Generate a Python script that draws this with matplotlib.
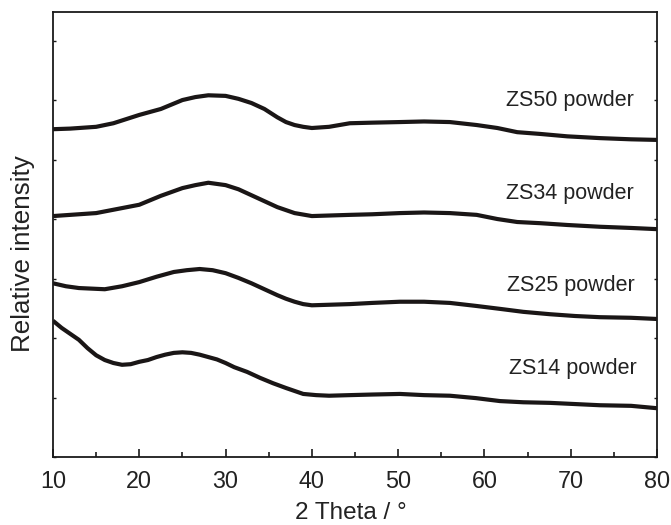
import matplotlib
matplotlib.use("Agg")
import matplotlib.pyplot as plt
from matplotlib.ticker import MultipleLocator

plt.rcParams['font.family'] = ['Liberation Sans', 'DejaVu Sans']

# ---- data ----
zs50_x = [10, 12, 15, 17, 20, 22.5, 25, 26.5, 28, 30, 31.5, 33, 34.5, 36, 37, 38, 39, 40, 42,
          44.4, 47, 50.2, 53, 56, 59.1, 61.5, 63.8, 66.5, 69.6, 73.4, 77, 80]
zs50_y = [5.51, 5.52, 5.55, 5.61, 5.75, 5.85, 6.00, 6.05, 6.08, 6.07, 6.02, 5.95, 5.85, 5.71, 5.63,
          5.58, 5.55, 5.53, 5.55, 5.61, 5.62, 5.63, 5.64, 5.63, 5.58, 5.53, 5.46, 5.43, 5.39, 5.36, 5.34, 5.33]

zs34_x = [10, 12, 15, 17.5, 20, 22.5, 25, 26.5, 28, 30, 31.5, 33, 34.5, 36, 37, 38, 40,
          44.4, 47, 50.2, 53, 56, 59.1, 61.5, 63.8, 66.5, 69.6, 73.4, 77, 80]
zs34_y = [4.05, 4.07, 4.10, 4.17, 4.24, 4.39, 4.52, 4.57, 4.61, 4.57, 4.50, 4.40, 4.30, 4.20, 4.15,
          4.10, 4.05, 4.07, 4.08, 4.10, 4.11, 4.10, 4.07, 4.00, 3.95, 3.93, 3.90, 3.87, 3.85, 3.83]

zs25_x = [10, 11.5, 13, 16, 18, 20, 22, 24, 25.5, 27, 28.5, 30, 31.5, 33, 34.5, 36, 37, 38, 39, 40,
          44.4, 47, 50.2, 53, 56, 59, 61.8, 64.5, 67.6, 70.5, 73.4, 77, 80]
zs25_y = [2.92, 2.87, 2.84, 2.82, 2.87, 2.94, 3.03, 3.11, 3.14, 3.16, 3.14, 3.09, 3.01, 2.92, 2.82,
          2.72, 2.66, 2.61, 2.57, 2.55, 2.57, 2.59, 2.61, 2.61, 2.59, 2.54, 2.49, 2.44, 2.40, 2.37,
          2.35, 2.34, 2.32]

zs14_x = [10, 11, 12, 13, 14, 15, 16, 17, 18, 19, 20, 21, 22, 23, 24, 25, 26, 27, 28, 29, 30, 31,
          32.5, 34, 35.5, 37, 38, 39, 40.5, 42, 44.4, 47, 50.2, 53, 56, 59, 61.8, 64.5, 67.6,
          70.5, 73.4, 77, 80]
zs14_y = [2.29, 2.17, 2.07, 1.97, 1.83, 1.71, 1.63, 1.58, 1.55, 1.56, 1.60, 1.63, 1.68, 1.72, 1.75,
          1.76, 1.75, 1.72, 1.68, 1.64, 1.58, 1.51, 1.43, 1.33, 1.24, 1.16, 1.11, 1.06, 1.04, 1.03,
          1.04, 1.05, 1.06, 1.04, 1.03, 0.99, 0.94, 0.92, 0.91, 0.89, 0.87, 0.86, 0.82]

labels = ["ZS50 powder", "ZS34 powder", "ZS25 powder", "ZS14 powder"]
label_x = [77.3, 77.3, 77.4, 77.6]
label_y = [6.00, 4.43, 2.89, 1.49]

x_ticks = [10, 20, 30, 40, 50, 60, 70, 80]

# ---- figure ----
fig = plt.figure(figsize=(6.71, 5.25), dpi=100)
ax = fig.add_axes([53/671, 1-457/525, 604/671, 445/525])

series = [(zs50_x, zs50_y), (zs34_x, zs34_y), (zs25_x, zs25_y), (zs14_x, zs14_y)]
for xs, ys in series:
    ax.plot(xs, ys, color='#1a1616', lw=3.0, solid_joinstyle='round', solid_capstyle='butt')

for t, lx, ly in zip(labels, label_x, label_y):
    ax.text(lx, ly, t, ha='right', va='center', fontsize=15.5, color='#222222')

ax.set_xlim(10, 80)
ax.set_ylim(0, 7.48)
ax.set_xticks(x_ticks)
ax.xaxis.set_minor_locator(MultipleLocator(5))
ax.yaxis.set_major_locator(MultipleLocator(1))
ax.set_yticklabels([])

for s in ax.spines.values():
    s.set_linewidth(1.3)
    s.set_color('#1a1a1a')

ax.tick_params(axis='x', which='major', direction='in', length=6, width=1.2, pad=9,
               labelsize=16.8, colors='#1a1a1a', labelcolor='#222222')
ax.tick_params(axis='x', which='minor', direction='in', length=3.3, width=1.2, colors='#1a1a1a')
ax.tick_params(axis='y', which='major', direction='in', length=2.2, width=1.0,
               left=True, right=True, labelleft=False, colors='#1a1a1a')

fig.text(351/671, (525-519)/525, "2 Theta / °", ha='center', va='baseline',
         fontsize=17.5, color='#222222')
fig.text(23.5/671, 1-254/525, "Relative intensity", ha='center', va='center',
         rotation=90, fontsize=18.7, color='#222222')

fig.savefig("out.png", dpi=100)
